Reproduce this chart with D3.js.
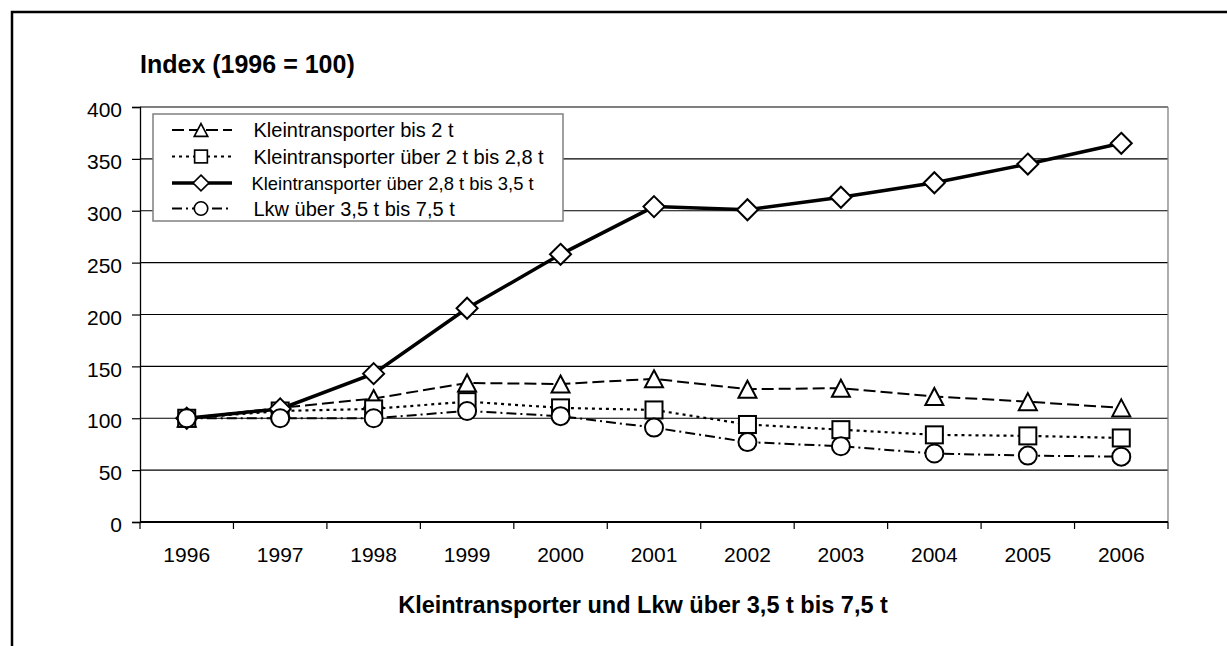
<!DOCTYPE html>
<html>
<head>
<meta charset="utf-8">
<script src="https://cdn.jsdelivr.net/npm/d3@7"></script>
<style>
  body { margin: 0; background: #fff; }
  svg { font-family: "Liberation Sans", Arial, sans-serif; }
</style>
</head>
<body>
<div id="chart"></div>
<script>
// Daten
const years = ['1996','1997','1998','1999','2000','2001','2002','2003','2004','2005','2006'];
const bis2 = [100, 110, 119, 134, 133, 138, 128, 129, 121, 116, 110];
const bis28 = [100, 107, 109, 116, 110, 108, 94, 89, 84, 83, 81];
const bis35 = [100, 109, 143, 206, 258, 304, 301, 313, 327, 345, 365];
const lkw = [100, 100, 100, 107, 102, 91, 77, 73, 66, 64, 63];
const yTicks = [0, 50, 100, 150, 200, 250, 300, 350, 400];

const series = [
  { name: 'Kleintransporter bis 2 t', values: bis2, marker: 'triangle', dash: '12,5', width: 2, size: 20 },
  { name: 'Kleintransporter über 2 t bis 2,8 t', values: bis28, marker: 'square', dash: '3,4', width: 2.2, size: 20 },
  { name: 'Kleintransporter über 2,8 t bis 3,5 t', values: bis35, marker: 'diamond', dash: null, width: 3.5, size: 18.4 },
  { name: 'Lkw über 3,5 t bis 7,5 t', values: lkw, marker: 'circle', dash: '10,4,2,4', width: 2, size: 20 }
];

const W = 1227, H = 646;
const margin = {top: 107, right: 59, bottom: 124, left: 140};
const width = W - margin.left - margin.right,
      height = H - margin.top - margin.bottom;

const svg = d3.select('#chart').append('svg')
  .attr('width', W).attr('height', H);

// Rahmen
svg.append('rect')
  .attr('x', 12).attr('y', 12).attr('width', W + 20).attr('height', H + 20)
  .attr('fill', 'none').attr('stroke', '#000').attr('stroke-width', 2.5);

const g = svg.append('g').attr('transform', 'translate(' + margin.left + ',' + margin.top + ')');

const x = d3.scaleBand().domain(years).range([0, width]);
const y = d3.scaleLinear().domain([0, 400]).range([height, 0]);

// Gitterlinien
g.append('g').selectAll('line').data(yTicks.filter(d => d > 0)).enter().append('line')
  .attr('x1', 0).attr('x2', width)
  .attr('y1', d => y(d)).attr('y2', d => y(d))
  .attr('stroke', '#000').attr('stroke-width', 1.2);

// rechter Rand
g.append('line').attr('x1', width).attr('x2', width).attr('y1', 0).attr('y2', height)
  .attr('stroke', '#808080').attr('stroke-width', 1.3);

// Y-Achse
const yAxis = g.append('g').call(d3.axisLeft(y).tickValues(yTicks).tickSize(8).tickPadding(10));
yAxis.select('.domain').attr('stroke', '#000').attr('stroke-width', 1.3);
yAxis.selectAll('line').attr('stroke-width', 1.2);
yAxis.selectAll('text').attr('font-size', 21).attr('fill', '#000').attr('dy', '0.46em');

// X-Achse
const xAxis = g.append('g').attr('transform', 'translate(0,' + height + ')');
xAxis.append('line').attr('x1', 0).attr('x2', width).attr('stroke', '#000').attr('stroke-width', 1.8);
xAxis.selectAll('.tk').data(d3.range(years.length + 1)).enter().append('line')
  .attr('x1', d => d * x.bandwidth()).attr('x2', d => d * x.bandwidth())
  .attr('y1', 0).attr('y2', 7).attr('stroke', '#000').attr('stroke-width', 1.2);
xAxis.selectAll('text').data(years).enter().append('text')
  .attr('x', d => x(d) + x.bandwidth() / 2).attr('y', 40)
  .attr('text-anchor', 'middle').attr('font-size', 21).text(d => d);

// Titel
svg.append('text').attr('x', 140).attr('y', 73).attr('font-size', 25).attr('font-weight', 'bold')
  .text('Index (1996 = 100)');
svg.append('text').attr('x', 643).attr('y', 613).attr('text-anchor', 'middle')
  .attr('font-size', 23.5).attr('font-weight', 'bold')
  .text('Kleintransporter und Lkw über 3,5 t bis 7,5 t');

function drawMarker(sel, type, cx, cy) {
  if (type === 'triangle') {
    sel.append('path').attr('d', 'M' + cx + ',' + (cy - 8.5) + 'L' + (cx + 9) + ',' + (cy + 8.5) + 'L' + (cx - 9) + ',' + (cy + 8.5) + 'Z');
  } else if (type === 'square') {
    sel.append('rect').attr('x', cx - 8.5).attr('y', cy - 8.5).attr('width', 17).attr('height', 17);
  } else if (type === 'diamond') {
    sel.append('path').attr('d', 'M' + cx + ',' + (cy - 10.5) + 'L' + (cx + 10.5) + ',' + cy + 'L' + cx + ',' + (cy + 10.5) + 'L' + (cx - 10.5) + ',' + cy + 'Z');
  } else {
    sel.append('circle').attr('cx', cx).attr('cy', cy).attr('r', 9);
  }
}

const line = d3.line().x((d, i) => x(years[i]) + x.bandwidth() / 2).y(d => y(d));

// Linien
series.forEach(s => {
  g.append('path').datum(s.values).attr('d', line)
    .attr('fill', 'none').attr('stroke', '#000').attr('stroke-width', s.width)
    .attr('stroke-dasharray', s.dash);
});
// Marker
series.forEach(s => {
  const mg = g.append('g').attr('fill', '#fff').attr('stroke', '#000').attr('stroke-width', 2);
  s.values.forEach((v, i) => drawMarker(mg, s.marker, x(years[i]) + x.bandwidth() / 2, y(v)));
});

// Legende
const lg = svg.append('g');
lg.append('rect').attr('x', 153).attr('y', 114).attr('width', 410).attr('height', 107)
  .attr('fill', '#fff').attr('stroke', '#808080').attr('stroke-width', 1.5);
const legendY = [130, 156.5, 183, 208.5];
series.forEach((s, i) => {
  const ly = legendY[i];
  lg.append('line').attr('x1', 172).attr('x2', 232).attr('y1', ly).attr('y2', ly)
    .attr('stroke', '#000').attr('stroke-width', s.width).attr('stroke-dasharray', s.dash);
  const mg = lg.append('g').attr('fill', '#fff').attr('stroke', '#000').attr('stroke-width', 2.2)
    .attr('transform', 'translate(201,' + ly + ') scale(0.75) translate(-201,' + (-ly) + ')');
  drawMarker(mg, s.marker, 201, ly);
  lg.append('text').attr('x', i === 2 ? 251.5 : 253.5).attr('y', ly + 7).attr('font-size', s.size)
    .text(s.name);
});
</script>
</body>
</html>
